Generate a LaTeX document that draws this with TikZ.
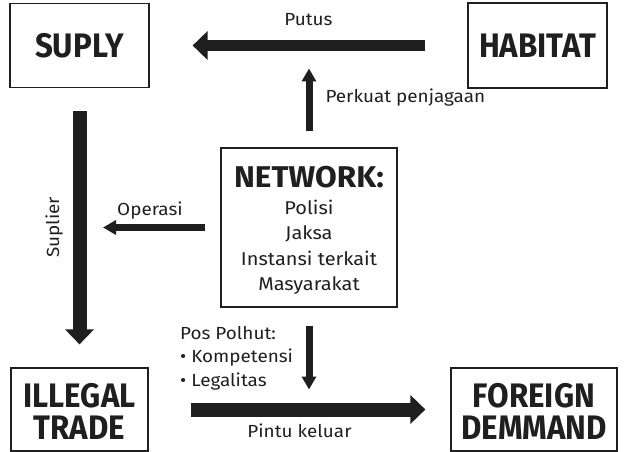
\documentclass[tikz,border=0pt]{standalone}
\usepackage{fontspec}
\setmainfont{Fira Sans}[FakeStretch=1.08]
\newfontfamily\tradeboxfont{Fira Sans}[FakeStretch=0.92]
\newfontfamily\tradenetfont{Fira Sans}[FakeStretch=1.05]
\usetikzlibrary{arrows.meta}
\definecolor{TradeInk}{gray}{0.12}
\tikzset{
    trade/diagram/.style={
        x=1pt, y=-1pt,
        color=TradeInk,
        line join=miter
    },
    trade/box/.style={
        draw=TradeInk, line width=1.2pt, inner sep=0pt,
        align=center, font=\tradeboxfont\fontsize{34}{32}\selectfont\bfseries
    },
    trade/bigarrow/.style={
        draw=TradeInk, line width=12.5pt,
        -{Triangle[length=15pt, width=28pt]}
    },
    trade/smallarrow/.style={
        draw=TradeInk, line width=7pt,
        -{Triangle[length=13pt, width=14pt]}
    },
    trade/label/.style={font=\fontsize{17.5}{23.5}\selectfont, inner sep=0pt}
}

\begin{document}
\begin{tikzpicture}[trade/diagram]
    \useasboundingbox (0,0) rectangle (625,452);
    \node[trade/box, minimum width=139pt, minimum height=84pt] (suply) at (79.5,45.5) {SUPLY};
    \node[trade/box, minimum width=139pt, minimum height=85pt] (habitat) at (537.5,45.5) {HABITAT};
    \node[trade/box, minimum width=137pt, minimum height=83pt] (illegal) at (79.5,409.5)
        {\rule{0pt}{28pt}ILLEGAL\\TRADE};
    \node[trade/box, minimum width=166pt, minimum height=83pt] (foreign) at (534,409.5)
        {\rule{0pt}{28pt}FOREIGN\\DEMMAND};
    \node[trade/box, minimum width=176pt, minimum height=159pt,
        font=\fontsize{18.5}{25.5}\selectfont] (network) at (309,227.5)
        {\rule{0pt}{27pt}{\tradenetfont\fontsize{30}{25.5}\selectfont\bfseries NETWORK:}\\[1pt]Polisi\\Jaksa\\Instansi terkait\\Masyarakat};

    \draw[trade/bigarrow, line width=11pt, shorten <=42pt, shorten >=43pt] (habitat) -- (suply)
        node[trade/label, midway, anchor=base, yshift=19.5pt] (putus) {Putus};
    \draw[trade/smallarrow, shorten <=16pt, shorten >=23pt] (network.north) -- (network.north |- suply.east)
        node[trade/label, midway, anchor=base west, xshift=13pt, yshift=-6pt] (perkuat) {Perkuat penjagaan};
    \draw[trade/smallarrow, shorten <=15pt, shorten >=23.5pt] (network.west) -- (suply.south |- network.west)
        node[trade/label, midway, anchor=base, yshift=12.5pt] (operasi) {Operasi};
    \draw[trade/bigarrow, line width=14pt, shorten <=23pt, shorten >=23pt] (suply.south) -- (illegal.north);
    \node[trade/label, rotate=90, anchor=south] (suplier) at (63,227.5) {Suplier};
    \draw[trade/bigarrow, line width=14pt, shorten <=42pt, shorten >=25pt] (illegal.east) -- (foreign.west)
        node[trade/label, midway, anchor=base, yshift=-28pt] (pintu) {Pintu keluar};
    \draw[trade/smallarrow, shorten <=18pt, shorten >=20pt] (network.south) -- (network.south |- illegal.east);
    \node[trade/label, align=left, anchor=north west] (polhut) at (180,326)
        {Pos Polhut:\\\textbullet\ Kompetensi\\\textbullet\ Legalitas};
\end{tikzpicture}
\end{document}
